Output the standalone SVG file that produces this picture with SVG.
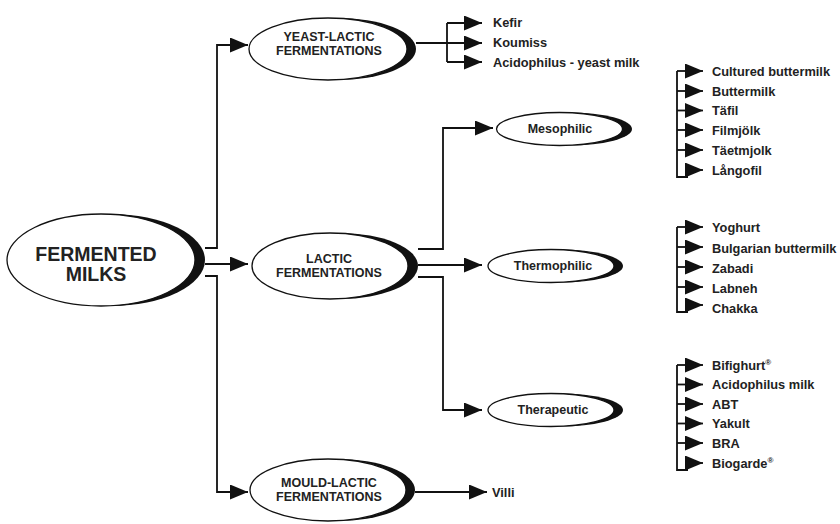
<svg xmlns="http://www.w3.org/2000/svg" width="840" height="524" viewBox="0 0 840 524">
<defs>
<marker id="ah" markerUnits="userSpaceOnUse" markerWidth="18" markerHeight="15" refX="18" refY="7.5" orient="auto">
<path d="M0,0 L18,7.5 L0,15 z" fill="#111"/>
</marker>
<style>
.sh{fill:#111}
.el{fill:#fff;stroke:#111;stroke-width:1.3}
.c{fill:none;stroke:#111;stroke-width:1.8}
.a{marker-end:url(#ah)}
.t{font-family:"Liberation Sans",Arial,sans-serif;font-weight:bold;fill:#222;text-anchor:middle}
.big{font-size:19.5px}
.nd{font-size:12.5px}
.li{font-family:"Liberation Sans",Arial,sans-serif;font-weight:bold;fill:#222;font-size:12.8px}
.sup{font-size:8px}
</style>
</defs>
<rect width="840" height="524" fill="#fff"/>

<g id="fermented-milks">
<ellipse class="sh" cx="111" cy="260" rx="94" ry="46"/>
<ellipse class="el" cx="101" cy="260" rx="94" ry="46"/>
<text class="t big" x="96" y="261">FERMENTED</text>
<text class="t big" x="96" y="281">MILKS</text>
</g>

<g id="yeast-lactic">
<ellipse class="sh" cx="337" cy="49" rx="79" ry="31"/>
<ellipse class="el" cx="328" cy="49" rx="79" ry="31"/>
<text class="t nd" x="329" y="41">YEAST-LACTIC</text>
<text class="t nd" x="329" y="55">FERMENTATIONS</text>
</g>

<g id="lactic">
<ellipse class="sh" cx="340" cy="266" rx="78" ry="33"/>
<ellipse class="el" cx="330" cy="266" rx="78" ry="33"/>
<text class="t nd" x="329" y="263">LACTIC</text>
<text class="t nd" x="329" y="276.5">FERMENTATIONS</text>
</g>

<g id="mould-lactic">
<ellipse class="sh" cx="337" cy="490" rx="78" ry="31"/>
<ellipse class="el" cx="328" cy="490" rx="78" ry="31"/>
<text class="t nd" x="329" y="487">MOULD-LACTIC</text>
<text class="t nd" x="329" y="500.5">FERMENTATIONS</text>
</g>

<g id="mesophilic">
<ellipse class="sh" cx="569" cy="129" rx="63" ry="16.5"/>
<ellipse class="el" cx="559.5" cy="129" rx="63" ry="16.5"/>
<text class="t nd" x="560" y="133">Mesophilic</text>
</g>

<g id="thermophilic">
<ellipse class="sh" cx="560" cy="266" rx="63" ry="16.5"/>
<ellipse class="el" cx="551" cy="266" rx="63" ry="16.5"/>
<text class="t nd" x="553" y="270">Thermophilic</text>
</g>

<g id="therapeutic">
<ellipse class="sh" cx="560" cy="410" rx="63" ry="16.5"/>
<ellipse class="el" cx="551" cy="410" rx="63" ry="16.5"/>
<text class="t nd" x="553" y="414">Therapeutic</text>
</g>

<g id="connectors">
<path class="c a" d="M205,248 H217 V45 H248"/>
<path class="c a" d="M205,264 H248"/>
<path class="c a" d="M205,276 H217 V492 H248"/>
<path class="c" d="M447,23 V62"/>
<path class="c a" d="M447,23 H482"/>
<path class="c a" d="M416,43 H482"/>
<path class="c a" d="M447,62 H482"/>
<path class="c a" d="M418,249 H443 V128 H493"/>
<path class="c a" d="M418,265 H482"/>
<path class="c a" d="M418,277 H443 V410 H482"/>
<path class="c a" d="M415,492 H487"/>

<path class="c" d="M677,71 V177 H688"/>
<path class="c a" d="M677,71 H703"/>
<path class="c a" d="M677,91 H703"/>
<path class="c a" d="M677,110.5 H703"/>
<path class="c a" d="M677,130 H703"/>
<path class="c a" d="M677,150 H703"/>
<path class="c a" d="M686,170 H703"/>

<path class="c" d="M677,227 V312 H688"/>
<path class="c a" d="M677,227 H703"/>
<path class="c a" d="M677,247 H703"/>
<path class="c a" d="M677,267 H703"/>
<path class="c a" d="M677,287 H703"/>
<path class="c a" d="M686,305 H703"/>

<path class="c" d="M677,365 V470 H688"/>
<path class="c a" d="M677,365 H703"/>
<path class="c a" d="M677,384.5 H703"/>
<path class="c a" d="M677,404 H703"/>
<path class="c a" d="M677,423.5 H703"/>
<path class="c a" d="M677,443 H703"/>
<path class="c a" d="M686,463 H703"/>
</g>

<g id="yeast-list">
<text class="li" x="493" y="27">Kefir</text>
<text class="li" x="493" y="47">Koumiss</text>
<text class="li" x="493" y="66.5">Acidophilus - yeast milk</text>
</g>

<g id="mould-list">
<text class="li" x="492" y="497">Villi</text>
</g>

<g id="mesophilic-list">
<text class="li" x="712" y="75.5">Cultured buttermilk</text>
<text class="li" x="712" y="95.5">Buttermilk</text>
<text class="li" x="712" y="115">Täfil</text>
<text class="li" x="712" y="134.5">Filmjölk</text>
<text class="li" x="712" y="154.5">Täetmjolk</text>
<text class="li" x="712" y="174.5">Långofil</text>
</g>

<g id="thermophilic-list">
<text class="li" x="712" y="232">Yoghurt</text>
<text class="li" x="712" y="252.5">Bulgarian buttermilk</text>
<text class="li" x="712" y="272.5">Zabadi</text>
<text class="li" x="712" y="292.5">Labneh</text>
<text class="li" x="712" y="312.5">Chakka</text>
</g>

<g id="therapeutic-list">
<text class="li" x="712" y="369.5">Bifighurt<tspan class="sup" dy="-5">®</tspan></text>
<text class="li" x="712" y="389">Acidophilus milk</text>
<text class="li" x="712" y="408.5">ABT</text>
<text class="li" x="712" y="428">Yakult</text>
<text class="li" x="712" y="448">BRA</text>
<text class="li" x="712" y="468">Biogarde<tspan class="sup" dy="-5">®</tspan></text>
</g>
</svg>
